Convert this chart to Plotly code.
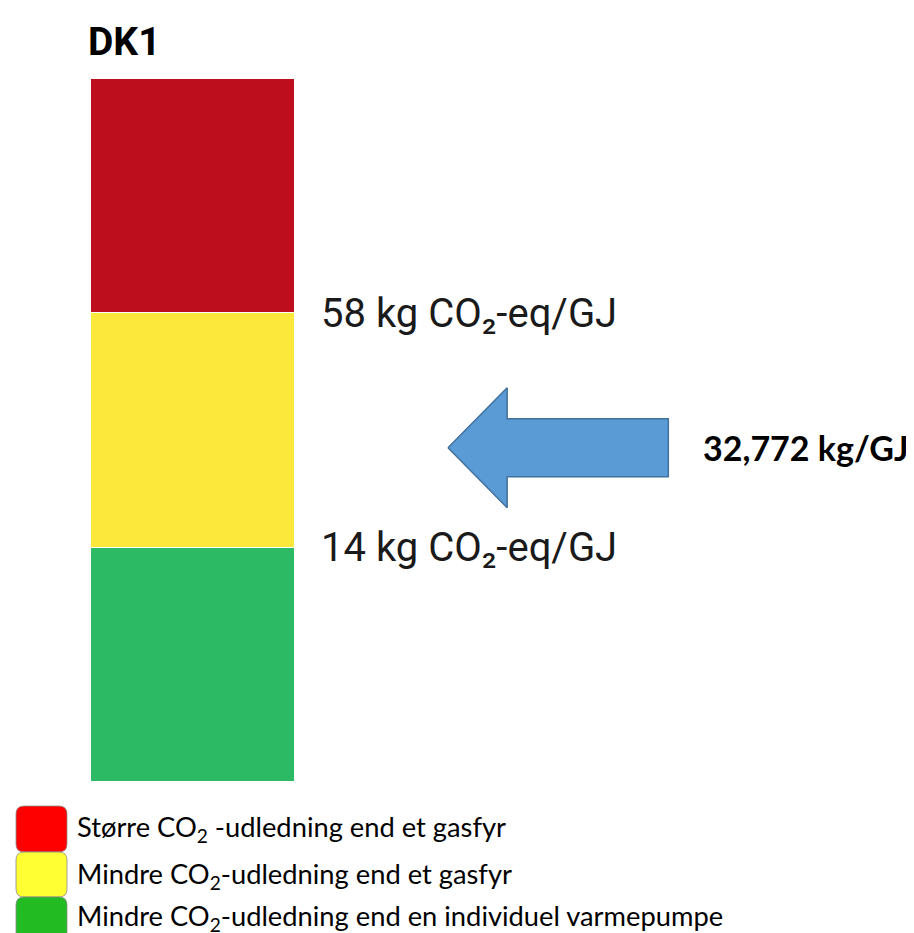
import plotly.graph_objects as go

OFF = 8                      # page body margin of the browser
W, H = 914 - OFF, 933 - OFF

# ---- data ----
station = "DK1"
segment_names = [
    "Mindre CO₂-udledning end en individuel varmepumpe",
    "Mindre CO₂-udledning end et gasfyr",
    "Større CO₂ -udledning end et gasfyr",
]
segment_colors = ["#2DBA64", "#FBE83B", "#BC0E1C"]
thresholds = [14, 58]
threshold_labels = ["14 kg CO₂-eq/GJ", "58 kg CO₂-eq/GJ"]
value = 32.772
value_label = "32,772 kg/GJ"
legend_labels = [
    "Større CO<sub>2</sub> -udledning end et gasfyr",
    "Mindre CO<sub>2</sub>-udledning end et gasfyr",
    "Mindre CO<sub>2</sub>-udledning end en individuel varmepumpe",
]
legend_colors = ["#FF0000", "#FFFF33", "#22BB22"]


def px_x(p):
    return (p - OFF) / W


def px_y(p):
    return 1 - (p - OFF) / H


# ---- figure ----
fig = go.Figure()
for name, col in zip(segment_names, segment_colors):
    fig.add_trace(go.Bar(
        x=[0], y=[1], width=1, name=name,
        marker=dict(color=col, line=dict(color="white", width=1)),
        hoverinfo="skip", showlegend=False,
    ))

# arrow position on the band scale (band 1..2 spans the two thresholds)
vy = 1 + (value - thresholds[0]) / (thresholds[1] - thresholds[0])
tip_x, head_x, tail_x = 1.25, 1.54, 2.33
head_h, shaft_h = 0.256, 0.124
ax = [tip_x, head_x, head_x, tail_x, tail_x, head_x, head_x, tip_x]
ay = [vy, vy + head_h, vy + shaft_h, vy + shaft_h, vy - shaft_h, vy - shaft_h, vy - head_h, vy]
fig.add_trace(go.Scatter(
    x=ax, y=ay, mode="lines", fill="toself", fillcolor="#5B9BD5",
    line=dict(color="#41719C", width=1.5), hoverinfo="skip", showlegend=False,
))

annotations = []
for t_i, lab in enumerate(threshold_labels):
    annotations.append(dict(
        x=0.62, y=t_i + 1, xref="x", yref="y", text=lab, showarrow=False,
        xanchor="left", yanchor="middle",
        font=dict(family="Roboto", size=40, color="#1a1a1a"),
    ))
annotations.append(dict(
    x=2.49, y=vy, xref="x", yref="y", text="<b>" + value_label + "</b>", showarrow=False,
    xanchor="left", yanchor="middle",
    font=dict(family="Lato", size=34, color="black"),
))

shapes = []
row_top = [806, 852, 897]
row_h = [46, 45, 45]
text_cy = [828, 875, 917]
bx0, bx1 = 16, 67
r = 8
for top, h, cy, col, lab in zip(row_top, row_h, text_cy, legend_colors, legend_labels):
    x0, x1 = px_x(bx0), px_x(bx1)
    y1, y0 = px_y(top), px_y(top + h)
    rx, ry = r / W, r / H
    path = (f"M {x0+rx},{y1} L {x1-rx},{y1} Q {x1},{y1} {x1},{y1-ry} "
            f"L {x1},{y0+ry} Q {x1},{y0} {x1-rx},{y0} L {x0+rx},{y0} "
            f"Q {x0},{y0} {x0},{y0+ry} L {x0},{y1-ry} Q {x0},{y1} {x0+rx},{y1} Z")
    shapes.append(dict(type="path", path=path, xref="paper", yref="paper",
                       fillcolor=col, line=dict(color="#8a8a8a", width=0.8)))
    annotations.append(dict(
        x=px_x(75), y=px_y(cy), xref="paper", yref="paper",
        text=lab, showarrow=False, xanchor="left", yanchor="middle",
        font=dict(family="Lato", size=27.3, color="black"),
    ))

# x axis: bar spans screen px 91..295 (204 px per unit, centre at 193)
xmin = (OFF - 193) / 204
xmax = (914 - 193) / 204

fig.update_layout(
    width=W, height=H,
    margin=dict(l=0, r=0, t=0, b=0),
    paper_bgcolor="white", plot_bgcolor="white",
    barmode="stack", bargap=0,
    title=dict(text="<b>" + station + "</b>", x=px_x(88), xanchor="left",
               y=px_y(41), yanchor="middle",
               font=dict(family="Roboto", size=39, color="black")),
    xaxis=dict(range=[xmin, xmax], visible=False, fixedrange=True),
    yaxis=dict(range=[0, 3], domain=[px_y(782), px_y(79)], visible=False, fixedrange=True),
    shapes=shapes, annotations=annotations,
)

fig.write_html("out.html")
